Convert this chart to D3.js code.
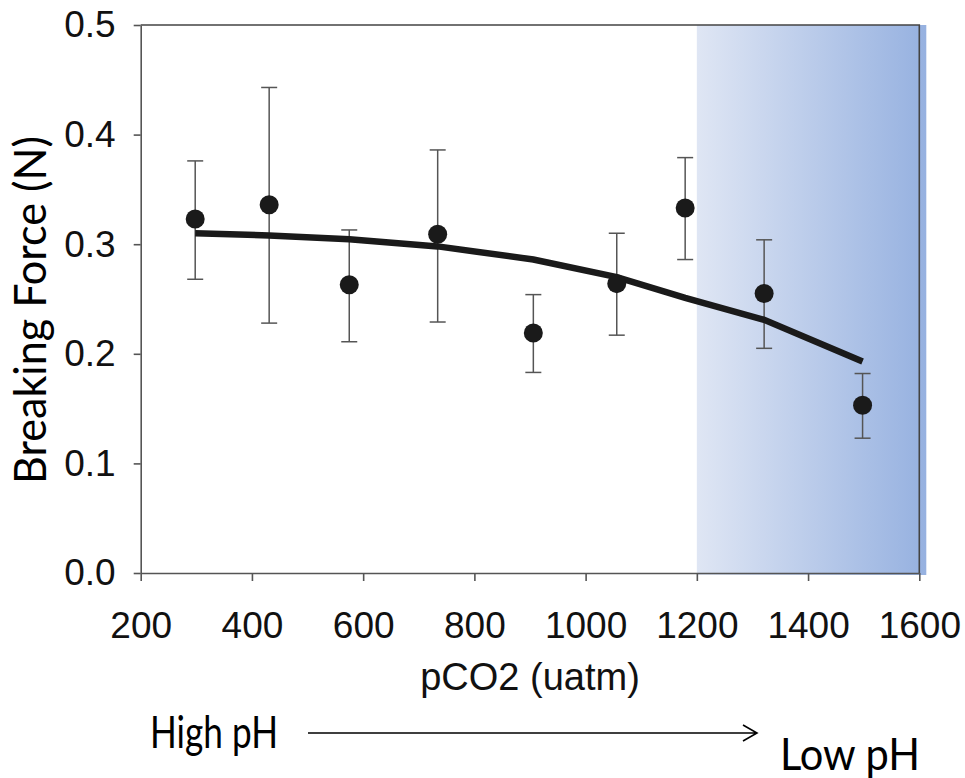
<!DOCTYPE html>
<html>
<head>
<meta charset="utf-8">
<script src="https://cdn.jsdelivr.net/npm/d3@7"></script>
<style>
  body { margin: 0; background: #fff; }
  svg { display: block; }
</style>
</head>
<body>
<div id="chart"></div>
<script>
// data
const pco2 = [298, 431, 575, 734, 906, 1056, 1179, 1321, 1498];
const force = [0.323, 0.336, 0.263, 0.309, 0.219, 0.264, 0.333, 0.255, 0.153];
const forceHi = [0.376, 0.443, 0.313, 0.386, 0.254, 0.310, 0.379, 0.304, 0.182];
const forceLo = [0.268, 0.228, 0.211, 0.229, 0.183, 0.217, 0.286, 0.205, 0.123];
const fitForce = [0.310, 0.308, 0.3045, 0.298, 0.286, 0.270, 0.251, 0.231, 0.193];
const xTicks = [200, 400, 600, 800, 1000, 1200, 1400, 1600];
const yTicks = [0, 0.1, 0.2, 0.3, 0.4, 0.5];
const lowPhStart = 1200;

const width = 965, height = 778;
const margin = { top: 25, left: 140.7, right: 45.7, bottom: 205 };

const svg = d3.select("#chart").append("svg")
  .attr("width", width)
  .attr("height", height);

const x = d3.scaleLinear().domain([200, 1600]).range([margin.left, width - margin.right]);
const y = d3.scaleLinear().domain([0, 0.5]).range([height - margin.bottom, margin.top]);

// shaded low pH band
const grad = svg.append("defs").append("linearGradient")
  .attr("id", "band").attr("x1", "0%").attr("x2", "100%");
grad.append("stop").attr("offset", "0%").attr("stop-color", "#dfe6f4");
grad.append("stop").attr("offset", "100%").attr("stop-color", "#96b1e0");

svg.append("rect")
  .attr("x", x(lowPhStart))
  .attr("y", y(0.5))
  .attr("width", x(1600) - x(lowPhStart) + 7)
  .attr("height", y(0) - y(0.5) + 2)
  .attr("fill", "url(#band)");

// frame top + right
svg.append("path")
  .attr("d", `M${x(200)},${y(0.5)}H${x(1600)}V${y(0)}`)
  .attr("fill", "none")
  .attr("stroke", "#444")
  .attr("stroke-width", 1.6);

// axes
const yAxis = svg.append("g")
  .attr("transform", `translate(${x(200)},0)`)
  .call(d3.axisLeft(y).tickValues(yTicks).tickFormat(d3.format(".1f"))
    .tickSize(7).tickPadding(18).tickSizeOuter(0));

const xAxis = svg.append("g")
  .attr("transform", `translate(0,${y(0)})`)
  .call(d3.axisBottom(x).tickValues(xTicks).tickFormat(d3.format("d"))
    .tickSize(8).tickPadding(31).tickSizeOuter(0));

[yAxis, xAxis].forEach(function (g) {
  g.select(".domain").attr("stroke", "#555").attr("stroke-width", 1.6);
  g.selectAll(".tick line").attr("stroke", "#555").attr("stroke-width", 1.6);
  g.selectAll(".tick text")
    .attr("fill", "#111")
    .style("font-family", "'Liberation Sans', Arial, sans-serif")
    .style("font-size", "37px");
});

// error bars
const bars = svg.append("g").attr("stroke", "#555").attr("stroke-width", 1.5);
pco2.forEach(function (p, i) {
  bars.append("line")
    .attr("x1", x(p)).attr("x2", x(p))
    .attr("y1", y(forceHi[i])).attr("y2", y(forceLo[i]));
  [forceHi[i], forceLo[i]].forEach(function (v) {
    bars.append("line")
      .attr("x1", x(p) - 8).attr("x2", x(p) + 8)
      .attr("y1", y(v)).attr("y2", y(v));
  });
});

// fitted curve
const line = d3.line()
  .x(function (d, i) { return x(pco2[i]); })
  .y(function (d) { return y(d); });

svg.append("path")
  .datum(fitForce)
  .attr("d", line)
  .attr("fill", "none")
  .attr("stroke", "#1a1a1a")
  .attr("stroke-width", 6.5);

// points
svg.append("g").selectAll("circle")
  .data(force)
  .join("circle")
  .attr("cx", function (d, i) { return x(pco2[i]); })
  .attr("cy", function (d) { return y(d); })
  .attr("r", 9.5)
  .attr("fill", "#1a1a1a");

// axis titles
svg.append("text")
  .attr("x", (x(200) + x(1600)) / 2)
  .attr("y", 690)
  .attr("text-anchor", "middle")
  .attr("fill", "#111")
  .style("font-family", "'Liberation Sans', Arial, sans-serif")
  .style("font-size", "38px")
  .text("pCO2 (uatm)");

// Calibri-ish look: Lato squeezed to the width seen in the picture
function calibriText(txt, fs, len) {
  return svg.append("text")
    .attr("fill", "#000")
    .attr("textLength", len)
    .attr("lengthAdjust", "spacingAndGlyphs")
    .style("font-family", "Lato, 'Open Sans', sans-serif")
    .style("font-size", fs + "px")
    .text(txt);
}

calibriText("Breaking Force (N)", 45, 348)
  .attr("transform", "translate(46,310) rotate(-90)")
  .attr("text-anchor", "middle");

calibriText("High pH", 44, 128)
  .attr("x", 150).attr("y", 748);

calibriText("Low pH", 44, 140)
  .attr("x", 780).attr("y", 770);

// arrow
const arrowY = 733;
svg.append("path")
  .attr("d", `M308,${arrowY}H757M743,${arrowY - 8}L757,${arrowY}L743,${arrowY + 8}`)
  .attr("fill", "none")
  .attr("stroke", "#000")
  .attr("stroke-width", 1.6);
</script>
</body>
</html>
